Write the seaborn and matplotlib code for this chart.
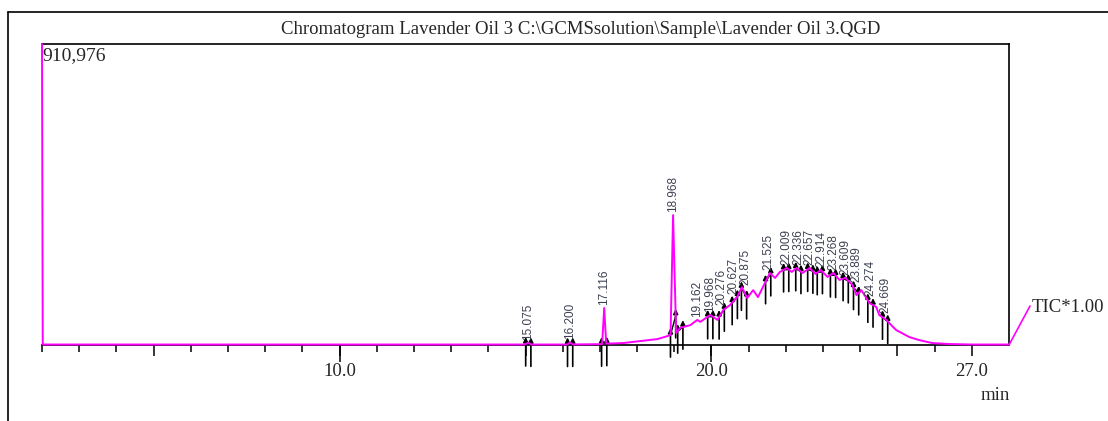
import numpy as np
import pandas as pd
import matplotlib
matplotlib.use("Agg")
import matplotlib.pyplot as plt
import seaborn as sns
from matplotlib.lines import Line2D

# ---------------- data ----------------
title_text = "Chromatogram Lavender Oil 3 C:\\GCMSsolution\\Sample\\Lavender Oil 3.QGD"
full_scale = 910976
full_scale_label = "910,976"
trace_label = "TIC*1.00"
x_unit = "min"

rt_min = [2.00, 2.02, 5.0, 10.0, 14.98, 15.075, 15.15, 16.13, 16.20, 16.27,
          17.06, 17.116, 17.17, 17.64, 18.55, 18.82, 18.90, 18.968, 19.05, 19.162,
          19.43, 19.62, 19.70, 19.97, 20.16, 20.32, 20.50, 20.69, 20.82, 20.96,
          21.12, 21.25, 21.44, 21.57, 21.71, 21.84, 22.03, 22.16, 22.29, 22.45,
          22.64, 22.80, 22.94, 23.12, 23.28, 23.44, 23.60, 23.79, 23.90, 24.03,
          24.25, 24.43, 24.51, 24.70, 24.86, 24.97, 25.32, 25.58, 25.93, 26.38,
          27.00, 28.00]
tic_intensity = [910976, 1500, 1500, 1500, 1500, 7000, 1500, 1500, 8000, 1800,
                 2500, 112000, 4000, 6000, 18000, 27000, 30000, 393000, 36000, 52000,
                 60000, 76000, 70000, 91000, 76000, 106000, 121000, 145000, 175000, 142000,
                 166000, 145000, 188000, 218000, 203000, 221000, 233000, 221000, 233000, 218000,
                 233000, 215000, 227000, 206000, 218000, 197000, 203000, 182000, 151000, 166000,
                 127000, 115000, 91000, 76000, 57000, 45000, 24000, 15000, 6000, 3000,
                 1500, 1500]

peak_rt = [15.075, 16.200, 17.116, 18.968, 19.162, 19.968, 20.276, 20.627, 20.875,
           21.525, 22.009, 22.336, 22.657, 22.914, 23.268, 23.609, 23.889, 24.274, 24.669]
peak_labels = ["15.075", "16.200", "17.116", "18.968", "19.162", "19.968", "20.276",
               "20.627", "20.875", "21.525", "22.009", "22.336", "22.657", "22.914",
               "23.268", "23.609", "23.889", "24.274", "24.669"]

labelled_ticks = [10, 20, 27]
labelled_tick_text = ["10.0", "20.0", "27.0"]

# ---------------- style ----------------
sns.set_style("white")
plt.rcParams['font.family'] = ['Liberation Serif', 'DejaVu Serif']

W, H = 1108, 421
def fx(px):
    return px / W
def fy(py):
    return 1 - py / H

MAGENTA = '#ff00ff'
fig = plt.figure(figsize=(W / 100, H / 100), dpi=100)
ax = fig.add_axes([fx(42), fy(345), fx(1009) - fx(42), fy(44) - fy(345)])

df = pd.DataFrame({'rt': rt_min, 'tic': tic_intensity})
sns.lineplot(data=df, x='rt', y='tic', ax=ax, color=MAGENTA, lw=1.4,
             sort=False, estimator=None, zorder=5)
for ln in ax.lines:
    ln.set_clip_on(False)

ax.set_xlim(2.0, 28.0)
ax.set_ylim(0, full_scale)
ax.set_xlabel('')
ax.set_ylabel('')
ax.set_yticks([])
for side in ['top', 'right', 'bottom']:
    ax.spines[side].set_visible(True)
    ax.spines[side].set_color('black')
    ax.spines[side].set_linewidth(1.2)
ax.spines['left'].set_visible(False)

# ticks
major = [5, 10, 15, 20, 25, 27]
major_lab = [labelled_tick_text[labelled_ticks.index(v)] if v in labelled_ticks else '' for v in major]
ax.set_xticks(major)
ax.set_xticklabels(major_lab)
ax.set_xticks(np.arange(2, 28), minor=True)
ax.tick_params(axis='x', which='major', direction='out', length=8, width=1.1,
               color='black', labelsize=13.5, pad=5, bottom=True)
ax.tick_params(axis='x', which='minor', direction='out', length=5, width=1.1,
               color='black', bottom=True)
sec = ax.secondary_xaxis('bottom')
sec.set_xticks([v for v in labelled_ticks if v % 10 == 0])
sec.set_xticklabels(['' for v in labelled_ticks if v % 10 == 0])
sec.tick_params(length=12, width=1.1, color='black')
sec.spines['bottom'].set_visible(False)

# peak markers and labels
rt_arr = np.array(rt_min)
I_arr = np.array(tic_intensity)
px_y = full_scale / 301.0
label_shift = {"19.162": 0.45, "20.627": -0.03, "20.875": 0.03,
               "22.657": -0.03, "22.914": 0.03}
for t, lab in zip(peak_rt, peak_labels):
    ends = []
    for dt in (-0.07, 0.07):
        tt = t + dt
        v = np.interp(tt, rt_arr, I_arr)
        ends.append((tt, v))
        ax.annotate('', xy=(tt, v + 7 * px_y), xytext=(tt, v - 22 * px_y),
                    arrowprops=dict(arrowstyle='-|>', color='black', lw=1.2,
                                    mutation_scale=7, shrinkA=0, shrinkB=0),
                    annotation_clip=False, zorder=4)
    ax.plot([ends[0][0], ends[1][0]], [ends[0][1], ends[1][1]], color='black',
            lw=1.0, zorder=4, clip_on=False)
    lx = t + label_shift.get(lab, 0.0)
    v = np.max(np.interp(np.linspace(lx - 0.1, lx + 0.1, 9), rt_arr, I_arr))
    ax.annotate(lab, xy=(lx, v), xytext=(0, 3), textcoords='offset pixels',
                rotation=90, ha='center', va='bottom', fontsize=8.5,
                family=['Liberation Sans', 'DejaVu Sans'], color='#3c4050',
                annotation_clip=False, zorder=6)

# outer frame
fig.add_artist(Line2D([fx(8), fx(8)], [fy(11.5), 0], color='black', lw=1.2,
                      transform=fig.transFigure))
fig.add_artist(Line2D([fx(8), 1], [fy(11.5), fy(11.5)], color='black', lw=1.2,
                      transform=fig.transFigure))

# texts
fig.text(fx(580.5), fy(30), title_text, ha='center', va='center', fontsize=13.5)
fig.text(fx(42), fy(56), full_scale_label, ha='left', va='center', fontsize=14)
fig.text(fx(1010), fy(396), x_unit, ha='right', va='center', fontsize=13.5)
fig.add_artist(Line2D([fx(1009), fx(1030)], [fy(345), fy(306)], color=MAGENTA, lw=1.2,
                      transform=fig.transFigure))
fig.text(fx(1032), fy(308), trace_label, ha='left', va='center', fontsize=13.5)

fig.savefig('out.png', dpi=100)
